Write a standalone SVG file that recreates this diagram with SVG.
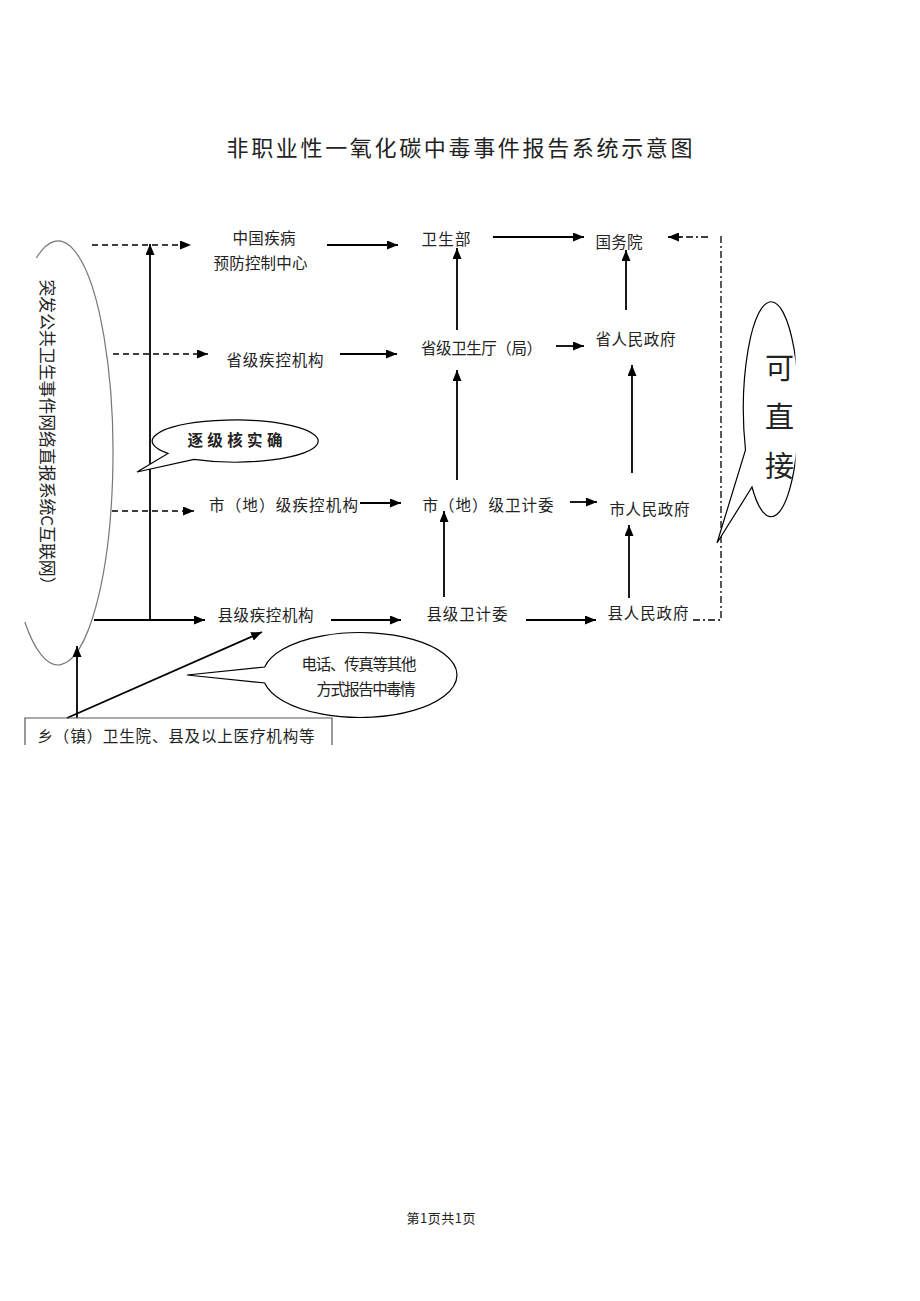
<svg xmlns="http://www.w3.org/2000/svg" width="920" height="1301" viewBox="0 0 920 1301">
<style>
text{font-family:"Noto Sans CJK SC","Noto Sans",sans-serif;fill:#222}
.n{font-size:15.5px}
.ar{stroke:#000;stroke-width:1.8;fill:none;marker-end:url(#ah)}
.da{stroke:#000;stroke-width:1.6;fill:none;stroke-dasharray:6,4;marker-end:url(#ah)}
.dd{stroke:#000;stroke-width:1.3;fill:none;stroke-dasharray:7,3,2,3}
.co{fill:#fff;stroke:#000;stroke-width:1.2}
</style>
<defs>
<marker id="ah" markerUnits="userSpaceOnUse" markerWidth="11" markerHeight="9" refX="11" refY="4.5" orient="auto">
<path d="M0,0 L11,4.5 L0,9 Z" fill="#000"/>
</marker>
<clipPath id="clipR"><rect x="700" y="280" width="95.5" height="280"/></clipPath>
</defs>
<rect width="920" height="1301" fill="#fff"/>
<text x="226.5" y="155.5" font-size="22" textLength="466" lengthAdjust="spacing">非职业性一氧化碳中毒事件报告系统示意图</text>

<g id="system-ellipse">
<path d="M36.4,258 A55 212 0 1 1 24.8,622" fill="none" stroke="#777" stroke-width="1.2"/>
<text font-size="16.5" transform="translate(41,279.5) rotate(90)" textLength="314" lengthAdjust="spacingAndGlyphs">突发公共卫生事件网络直报系统C互联网）</text>
</g>

<g id="connectors">
<line class="da" x1="92" y1="245" x2="191" y2="245"/>
<line class="da" x1="113" y1="354" x2="208" y2="354"/>
<line class="da" x1="112" y1="511" x2="194" y2="511"/>
<line class="ar" x1="94" y1="620" x2="205" y2="620"/>
<line class="ar" x1="150" y1="620" x2="150" y2="244"/>
<line class="ar" x1="77" y1="718" x2="77" y2="646"/>
<line class="ar" x1="67" y1="718" x2="262" y2="632"/>
<line class="ar" x1="327" y1="245" x2="398" y2="245"/>
<line class="ar" x1="493" y1="237" x2="584" y2="237"/>
<line class="ar" x1="457" y1="330" x2="457" y2="248"/>
<line class="ar" x1="626" y1="310" x2="626" y2="250"/>
<line class="ar" x1="340" y1="354" x2="397" y2="354"/>
<line class="ar" x1="556" y1="346" x2="584" y2="346"/>
<line class="ar" x1="457" y1="480" x2="457" y2="370"/>
<line class="ar" x1="632" y1="473" x2="632" y2="365"/>
<line class="ar" x1="360" y1="503" x2="401" y2="503"/>
<line class="ar" x1="570" y1="502" x2="597" y2="502"/>
<line class="ar" x1="444" y1="597" x2="444" y2="511"/>
<line class="ar" x1="629" y1="598" x2="629" y2="525"/>
<line class="ar" x1="331" y1="620" x2="401" y2="620"/>
<line class="ar" x1="526" y1="620" x2="596" y2="620"/>
<path class="dd" d="M693,620 H721 V233"/>
<path class="dd" d="M708,237 H680"/>
<line class="ar" x1="681" y1="237" x2="668" y2="237"/>
</g>

<g id="n-cdc-china"><text class="n" x="232.5" y="244" textLength="63">中国疾病</text><text class="n" x="213.5" y="269" textLength="94">预防控制中心</text></g>
<g id="n-moh"><text class="n" x="421.5" y="245" textLength="49">卫生部</text></g>
<g id="n-state"><text class="n" x="595.5" y="248" textLength="47">国务院</text></g>
<g id="n-prov-cdc"><text class="n" x="226.5" y="366" textLength="97">省级疾控机构</text></g>
<g id="n-prov-health"><text class="n" x="421" y="354" textLength="121">省级卫生厅（局）</text></g>
<g id="n-prov-gov"><text class="n" x="595.5" y="345" textLength="80">省人民政府</text></g>
<g id="n-city-cdc"><text class="n" x="209" y="511" textLength="149">市（地）级疾控机构</text></g>
<g id="n-city-health"><text class="n" x="422.5" y="511" textLength="131">市（地）级卫计委</text></g>
<g id="n-city-gov"><text class="n" x="609.5" y="515" textLength="80">市人民政府</text></g>
<g id="n-county-cdc"><text class="n" x="217.5" y="621" textLength="96">县级疾控机构</text></g>
<g id="n-county-health"><text class="n" x="426.5" y="620" textLength="81">县级卫计委</text></g>
<g id="n-county-gov"><text class="n" x="607.5" y="619" textLength="81">县人民政府</text></g>

<g id="callout-verify">
<path class="co" d="M194,459.3 A83 21 0 1 0 168,453.4 L137,472 Z"/>
<text x="187.5" y="446" font-size="15.5" font-weight="bold" textLength="95">逐级核实确</text>
</g>

<g id="callout-phone">
<path class="co" d="M264.7,667 A97 42.5 0 1 1 264.7,683 L187,675 Z"/>
<text class="n" x="301.5" y="670" textLength="115">电话、传真等其他</text>
<text class="n" x="316.5" y="695" textLength="99">方式报告中毒情</text>
</g>

<g id="callout-direct" clip-path="url(#clipR)">
<path class="co" d="M752,487 A27.7 107.5 0 1 0 745.5,450 L717,543 Z"/>
<text x="779.5" y="379" font-size="29" text-anchor="middle" fill="#000">可</text>
<text x="779.5" y="428" font-size="29" text-anchor="middle" fill="#000">直</text>
<text x="779.5" y="477" font-size="29" text-anchor="middle" fill="#000">接</text>
</g>

<g id="n-township">
<path d="M25,745 V718 H332 V745" fill="none" stroke="#555" stroke-width="1.2"/>
<text class="n" x="37.5" y="742" textLength="277">乡（镇）卫生院、县及以上医疗机构等</text>
</g>

<text x="406.5" y="1223" font-size="13" textLength="69">第1页共1页</text>
</svg>
